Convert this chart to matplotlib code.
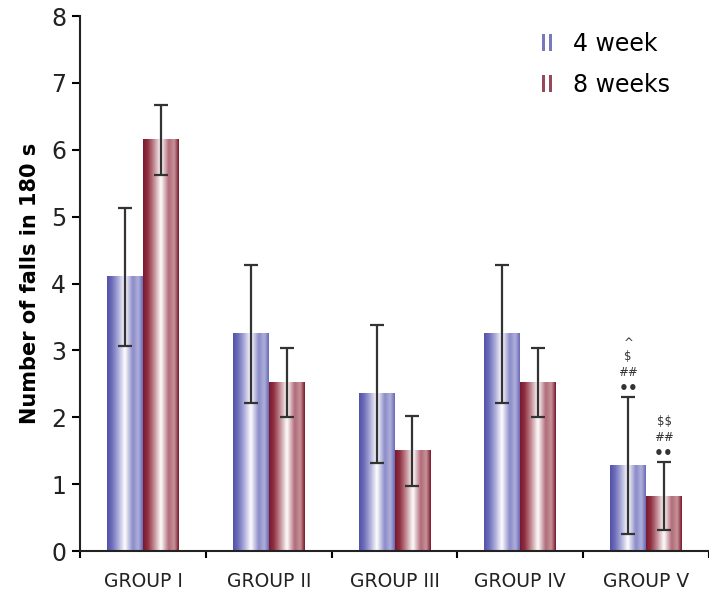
import matplotlib
matplotlib.use('Agg')
import matplotlib.pyplot as plt
import numpy as np
from matplotlib.colors import LinearSegmentedColormap
from matplotlib.legend_handler import HandlerBase
import matplotlib.patches as mpatches

plt.rcParams['font.family'] = ['DejaVu Sans']

# data
groups = ["GROUP I", "GROUP II", "GROUP III", "GROUP IV", "GROUP V"]
week4 = [4.1, 3.25, 2.35, 3.25, 1.28]
week4_err = [1.03, 1.03, 1.03, 1.03, 1.02]
week8 = [6.15, 2.52, 1.5, 2.52, 0.82]
week8_err = [0.52, 0.52, 0.52, 0.52, 0.51]
series_names = ["4 week", "8 weeks"]
# significance marks above group V (bottom to top)
marks4 = ["\u2022\u2022", "##", "$", "^"]
marks8 = ["\u2022\u2022", "##", "$$"]

BLUE_DARK = "#5656AE"
RED_DARK = "#7C1C2E"

# cylinder-like shading across each bar
blue_cmap = LinearSegmentedColormap.from_list(
    "blue_shade", [(0.0, "#5252aa"), (0.12, "#6a6ab8"), (0.3, "#a8a8d8"),
                   (0.5, "#ffffff"), (0.72, "#8a8ac8"), (0.88, "#b0b0dc"),
                   (1.0, "#6a6ab8")])
red_cmap = LinearSegmentedColormap.from_list(
    "red_shade", [(0.0, "#7a1a2c"), (0.12, "#8e2e40"), (0.3, "#c08890"),
                  (0.5, "#ffffff"), (0.72, "#b06a78"), (0.88, "#c8949c"),
                  (1.0, "#7a1a2c")])
cmaps = [blue_cmap, red_cmap]
grad = np.linspace(0, 1, 64).reshape(1, -1)

fig = plt.figure(figsize=(7.09, 5.97), dpi=100)
ax = fig.add_axes([0.113, 0.077, 0.887, 0.896])

x = np.arange(len(groups))
width = 0.285
for s, (vals, errs) in enumerate([(week4, week4_err), (week8, week8_err)]):
    for i, (v, e) in enumerate(zip(vals, errs)):
        x0 = x[i] - width + s * width
        ax.imshow(grad, extent=[x0, x0 + width, 0, v], aspect='auto',
                  cmap=cmaps[s], interpolation='bicubic', zorder=2)
        ax.errorbar(x0 + width / 2, v, yerr=e, color='#333333', capsize=5,
                    elinewidth=1.6, capthick=1.6, zorder=4)

# significance annotations on group V
offsets = [6.5, 18, 29.5, 39]
for s, (vals, errs, marks) in enumerate([(week4, week4_err, marks4),
                                        (week8, week8_err, marks8)]):
    i = len(groups) - 1
    xc = x[i] - width + s * width + width / 2
    for k, m in enumerate(marks):
        ax.annotate(m, (xc, vals[i] + errs[i]), xytext=(0, offsets[k]),
                    textcoords='offset points', ha='center', va='center',
                    fontsize=11 if k == 0 else 8.5, color='#333333',
                    parse_math=False,
                    fontweight='bold' if k == 0 else 'normal',
                    fontstyle='italic' if m == "##" else 'normal')

ax.set_xlim(-0.5, len(groups) - 0.5)
ax.set_ylim(0, 8)
ax.set_yticks(range(0, 9))
ax.tick_params(axis='y', labelsize=17, direction='out', length=6, width=1.5, pad=4,
               labelcolor='#222222')
ax.set_xticks(np.arange(-0.5, len(groups) - 0.4, 1.0))
ax.set_xticks(x, minor=True)
ax.set_xticklabels([])
ax.set_xticklabels(groups, minor=True)
ax.tick_params(axis='x', which='major', direction='out', length=5, width=1.5)
ax.tick_params(axis='x', which='minor', length=0, labelsize=13.5, pad=15,
               labelcolor='#222222')
ax.set_ylabel("Number of falls in 180 s", fontsize=15, fontweight='bold', labelpad=8)

for sp in ['top', 'right']:
    ax.spines[sp].set_visible(False)
for sp in ['left', 'bottom']:
    ax.spines[sp].set_linewidth(1.5)
    ax.spines[sp].set_color('#222222')


class StripeHandler(HandlerBase):
    def create_artists(self, legend, orig_handle, xd, yd, w, h, fontsize, trans):
        c = orig_handle.get_facecolor()
        arts = []
        sw = w / 3.0
        for k, col in enumerate([c, "white", c]):
            r = mpatches.Rectangle((xd + k * sw, yd), sw, h, facecolor=col,
                                   edgecolor='none', alpha=0.8, transform=trans)
            arts.append(r)
        return arts


handles = [mpatches.Patch(facecolor=BLUE_DARK), mpatches.Patch(facecolor=RED_DARK)]
ax.legend(handles, series_names, loc='upper left', bbox_to_anchor=(0.70, 1.01),
          frameon=False, fontsize=17, handlelength=0.45, handletextpad=0.9,
          labelspacing=0.7, handler_map={mpatches.Patch: StripeHandler()})

fig.savefig("out.png", dpi=100)
